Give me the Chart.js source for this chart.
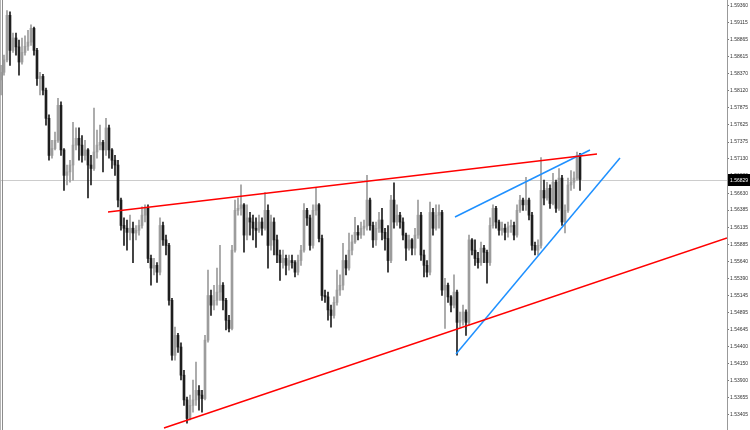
<!DOCTYPE html>
<html>
<head>
<meta charset="utf-8">
<script src="https://cdn.jsdelivr.net/npm/chart.js@4.4.1/dist/chart.umd.min.js"></script>
<style>
  html, body { margin: 0; padding: 0; background: #fff; }
  #wrap { width: 750px; height: 430px; }
</style>
</head>
<body>
<div id="wrap"><canvas id="chart" width="750" height="430"></canvas></div>
<script>
// candles (open = previous close)
const firstOpen = 1.5828;
const closes = [
  1.5839, 1.5857, 1.5922, 1.5871, 1.5889, 1.5876, 1.5854, 1.5868, 1.5877, 1.5883,
  1.5903, 1.5871, 1.5830, 1.5833, 1.5813, 1.5772, 1.5718, 1.5728, 1.5740, 1.5791,
  1.5726, 1.5689, 1.5694, 1.5704, 1.5733, 1.5743, 1.5733, 1.5718, 1.5726, 1.5704,
  1.5699, 1.5723, 1.5733, 1.5737, 1.5726, 1.5758, 1.5726, 1.5711, 1.5704, 1.5653,
  1.5616, 1.5612, 1.5606, 1.5612, 1.5605, 1.5609, 1.5616, 1.5631, 1.5641, 1.5568,
  1.5554, 1.5558, 1.5548, 1.5616, 1.5595, 1.5587, 1.5507, 1.5427, 1.5456, 1.5439,
  1.5398, 1.5362, 1.5335, 1.5354, 1.5362, 1.5376, 1.5369, 1.5364, 1.5449, 1.5514,
  1.5500, 1.5507, 1.5519, 1.5529, 1.5507, 1.5478, 1.5466, 1.5580, 1.5638, 1.5641,
  1.5646, 1.5602, 1.5627, 1.5621, 1.5612, 1.5609, 1.5621, 1.5612, 1.5638, 1.5587,
  1.5621, 1.5595, 1.5573, 1.5562, 1.5568, 1.5558, 1.5565, 1.5562, 1.5548, 1.5565,
  1.5580, 1.5638, 1.5627, 1.5587, 1.5638, 1.5646, 1.5597, 1.5514, 1.5512, 1.5493,
  1.5485, 1.5504, 1.5522, 1.5529, 1.5565, 1.5554, 1.5580, 1.5592, 1.5606, 1.5602,
  1.5612, 1.5615, 1.5653, 1.5616, 1.5595, 1.5612, 1.5624, 1.5606, 1.5597, 1.5565,
  1.5653, 1.5621, 1.5631, 1.5621, 1.5602, 1.5583, 1.5595, 1.5583, 1.5602, 1.5631,
  1.5573, 1.5558, 1.5548, 1.5635, 1.5612, 1.5631, 1.5635, 1.5522, 1.5529, 1.5512,
  1.5500, 1.5519, 1.5475, 1.5478, 1.5490, 1.5475, 1.5595, 1.5580, 1.5568, 1.5562,
  1.5583, 1.5577, 1.5562, 1.5616, 1.5641, 1.5621, 1.5609, 1.5612, 1.5606, 1.5614,
  1.5616, 1.5602, 1.5638, 1.5653, 1.5646, 1.5653, 1.5631, 1.5587, 1.5580, 1.5587,
  1.5667, 1.5656, 1.5670, 1.5648, 1.5679, 1.5641, 1.5685, 1.5621, 1.5638, 1.5675,
  1.5679, 1.5685, 1.5718, 1.56829
];
const highs = [
  1.5849, 1.5864, 1.5929, 1.5927, 1.5896, 1.5896, 1.5886, 1.5889, 1.5892, 1.5900,
  1.5908, 1.5905, 1.5874, 1.5839, 1.5836, 1.5816, 1.5777, 1.5740, 1.5752, 1.5801,
  1.5796, 1.5728, 1.5704, 1.5711, 1.5766, 1.5758, 1.5758, 1.5747, 1.5740, 1.5728,
  1.5718, 1.5787, 1.5755, 1.5762, 1.5740, 1.5772, 1.5762, 1.5728, 1.5718, 1.5711,
  1.5656, 1.5627, 1.5624, 1.5631, 1.5621, 1.5616, 1.5624, 1.5643, 1.5646, 1.5646,
  1.5573, 1.5568, 1.5562, 1.5627, 1.5621, 1.5602, 1.5590, 1.5510, 1.5468, 1.5459,
  1.5445, 1.5405, 1.5366, 1.5369, 1.5391, 1.5417, 1.5383, 1.5376, 1.5456, 1.5551,
  1.5522, 1.5529, 1.5554, 1.5587, 1.5533, 1.5510, 1.5485, 1.5587, 1.5653, 1.5656,
  1.5675, 1.5648, 1.5646, 1.5635, 1.5631, 1.5627, 1.5631, 1.5627, 1.5664, 1.5646,
  1.5631, 1.5627, 1.5602, 1.5580, 1.5580, 1.5573, 1.5573, 1.5573, 1.5565, 1.5573,
  1.5587, 1.5648, 1.5641, 1.5631, 1.5646, 1.5670, 1.5648, 1.5602, 1.5522, 1.5519,
  1.5500, 1.5512, 1.5551, 1.5544, 1.5590, 1.5573, 1.5605, 1.5602, 1.5628, 1.5616,
  1.5621, 1.5624, 1.5689, 1.5656, 1.5621, 1.5621, 1.5635, 1.5641, 1.5612, 1.5616,
  1.5660, 1.5678, 1.5646, 1.5635, 1.5627, 1.5605, 1.5602, 1.5597, 1.5612, 1.5653,
  1.5635, 1.5580, 1.5565, 1.5650, 1.5641, 1.5646, 1.5646, 1.5638, 1.5539, 1.5532,
  1.5514, 1.5544, 1.5522, 1.5490, 1.5500, 1.5493, 1.5602, 1.5597, 1.5595, 1.5577,
  1.5592, 1.5587, 1.5580, 1.5627, 1.5646, 1.5644, 1.5624, 1.5621, 1.5618, 1.5621,
  1.5624, 1.5621, 1.5646, 1.5660, 1.5656, 1.5686, 1.5656, 1.5635, 1.5592, 1.5595,
  1.5715, 1.5682, 1.5679, 1.5675, 1.5692, 1.5682, 1.5699, 1.5689, 1.5646, 1.5685,
  1.5696, 1.5694, 1.5723, 1.5721
];
const lows = [
  1.5806, 1.5835, 1.5854, 1.5849, 1.5868, 1.5864, 1.5835, 1.5851, 1.5864, 1.5871,
  1.5878, 1.5864, 1.5820, 1.5806, 1.5806, 1.5762, 1.5711, 1.5714, 1.5726, 1.5737,
  1.5718, 1.5667, 1.5675, 1.5679, 1.5682, 1.5726, 1.5711, 1.5708, 1.5711, 1.5656,
  1.5675, 1.5696, 1.5714, 1.5726, 1.5694, 1.5718, 1.5714, 1.5699, 1.5689, 1.5643,
  1.5609, 1.5587, 1.5580, 1.5595, 1.5562, 1.5595, 1.5602, 1.5612, 1.5621, 1.5562,
  1.5529, 1.5544, 1.5533, 1.5544, 1.5587, 1.5573, 1.5500, 1.5420, 1.5420, 1.5431,
  1.5391, 1.5354, 1.5328, 1.5333, 1.5344, 1.5354, 1.5347, 1.5344, 1.5362, 1.5446,
  1.5485, 1.5493, 1.5500, 1.5507, 1.5493, 1.5464, 1.5461, 1.5464, 1.5577, 1.5631,
  1.5631, 1.5577, 1.5595, 1.5602, 1.5595, 1.5584, 1.5606, 1.5602, 1.5609, 1.5554,
  1.5580, 1.5573, 1.5562, 1.5536, 1.5554, 1.5544, 1.5551, 1.5554, 1.5541, 1.5544,
  1.5558, 1.5577, 1.5616, 1.5580, 1.5583, 1.5631, 1.5592, 1.5507, 1.5504, 1.5478,
  1.5468, 1.5481, 1.5500, 1.5514, 1.5522, 1.5544, 1.5551, 1.5573, 1.5590, 1.5595,
  1.5597, 1.5602, 1.5609, 1.5609, 1.5584, 1.5587, 1.5606, 1.5595, 1.5580, 1.5548,
  1.5562, 1.5612, 1.5616, 1.5612, 1.5595, 1.5565, 1.5580, 1.5573, 1.5573, 1.5597,
  1.5565, 1.5541, 1.5541, 1.5544, 1.5602, 1.5609, 1.5612, 1.5514, 1.5466, 1.5504,
  1.5490, 1.5496, 1.5427, 1.5468, 1.5471, 1.5456, 1.5471, 1.5573, 1.5558, 1.5554,
  1.5558, 1.5562, 1.5532, 1.5558, 1.5612, 1.5612, 1.5602, 1.5602, 1.5595, 1.5599,
  1.5606, 1.5595, 1.5599, 1.5635, 1.5638, 1.5638, 1.5624, 1.5580, 1.5573, 1.5573,
  1.5583, 1.5646, 1.5653, 1.5641, 1.5646, 1.5635, 1.5638, 1.5616, 1.5605, 1.5635,
  1.5667, 1.5670, 1.5682, 1.5667
];
const lastPrice = 1.56829;

// price scale labels on the right
const yTicks = [
  1.59360, 1.59115, 1.58865, 1.58615, 1.58370, 1.58120, 1.57875, 1.57625, 1.57375,
  1.57130, 1.56880, 1.56630, 1.56385, 1.56135, 1.55885, 1.55640, 1.55390, 1.55145,
  1.54895, 1.54645, 1.54400, 1.54150, 1.53900, 1.53655, 1.53405
];
const yMin = 1.53182, yMax = 1.59443;

// trend lines (bar index, price)
const redUpper = [{ x: 35.67, y: 1.56356 }, { x: 198.67, y: 1.57201 }];
const redLower = [{ x: 54.33, y: 1.53211 }, { x: 242, y: 1.55978 }];
const blueUpper = [{ x: 151.33, y: 1.56283 }, { x: 196.33, y: 1.57259 }];
const blueLower = [{ x: 151.67, y: 1.54289 }, { x: 206.33, y: 1.57143 }];

const opens = closes.map((c, i) => i === 0 ? firstOpen : closes[i - 1]);
const bullColor = '#9c9c9c';
const bearColor = '#1e1e1e';
const candleColors = closes.map((c, i) => c >= opens[i] ? bullColor : bearColor);

const wicks = closes.map((c, i) => ({ x: i, y: [lows[i], highs[i]] }));
const bodies = closes.map((c, i) => ({ x: i, y: [opens[i], c] }));

const labelFont = '"Liberation Sans", Arial, sans-serif';

function trend(data, color) {
  return {
    type: 'line',
    data: data,
    borderColor: color,
    borderWidth: 1.5,
    pointRadius: 0,
    fill: false,
    order: 0
  };
}

const priceLine = {
  id: 'priceLine',
  beforeDatasetsDraw(chart) {
    const { ctx, chartArea, scales } = chart;
    const py = Math.round(scales.y.getPixelForValue(lastPrice)) + 0.5;
    ctx.save();
    ctx.lineWidth = 1;
    ctx.strokeStyle = '#cccccc';
    ctx.beginPath();
    ctx.moveTo(chartArea.left, py);
    ctx.lineTo(chartArea.right, py);
    ctx.stroke();
    // window frame on the left
    ctx.strokeStyle = '#b4b4b4';
    ctx.beginPath();
    ctx.moveTo(0.5, 0); ctx.lineTo(0.5, chart.height);
    ctx.stroke();
    ctx.strokeStyle = '#8c8c8c';
    ctx.beginPath();
    ctx.moveTo(2.5, 0); ctx.lineTo(2.5, chart.height);
    ctx.stroke();
    ctx.restore();
  },
  afterDraw(chart) {
    const { ctx, chartArea, scales } = chart;
    const py = Math.round(scales.y.getPixelForValue(lastPrice));
    ctx.save();
    ctx.fillStyle = '#000';
    ctx.fillRect(chartArea.right + 1, py - 6, chart.width - chartArea.right - 1, 12);
    ctx.fillStyle = '#fff';
    ctx.font = '5px ' + labelFont;
    ctx.textBaseline = 'middle';
    ctx.fillText(lastPrice.toFixed(5), chartArea.right + 3, py + 0.5);
    ctx.restore();
  }
};

new Chart(document.getElementById('chart'), {
  type: 'bar',
  data: {
    datasets: [
      trend(redUpper, '#ff0000'),
      trend(redLower, '#ff0000'),
      trend(blueUpper, '#1e90ff'),
      trend(blueLower, '#1e90ff'),
      {
        data: bodies,
        backgroundColor: candleColors,
        barThickness: 2,
        minBarLength: 1,
        grouped: false,
        order: 1
      },
      {
        data: wicks,
        backgroundColor: candleColors,
        barThickness: 1,
        grouped: false,
        order: 2
      }
    ]
  },
  options: {
    responsive: false,
    animation: false,
    layout: { padding: 0 },
    plugins: {
      legend: { display: false },
      tooltip: { enabled: false }
    },
    scales: {
      x: {
        type: 'linear',
        display: false,
        offset: false,
        min: -0.33,
        max: 242
      },
      y: {
        position: 'right',
        min: yMin,
        max: yMax,
        afterBuildTicks: s => { s.ticks = yTicks.map(v => ({ value: v })); },
        afterFit: s => { s.width = 23; s.paddingTop = 0; s.paddingBottom = 0; },
        grid: { drawOnChartArea: false, drawTicks: true, tickLength: 2, color: '#777' },
        border: { display: true, color: '#999', width: 1 },
        ticks: {
          autoSkip: false,
          padding: 1,
          color: '#333',
          font: { size: 5, family: labelFont },
          callback: v => Number(v).toFixed(5)
        }
      }
    }
  },
  plugins: [priceLine]
});
</script>
</body>
</html>
